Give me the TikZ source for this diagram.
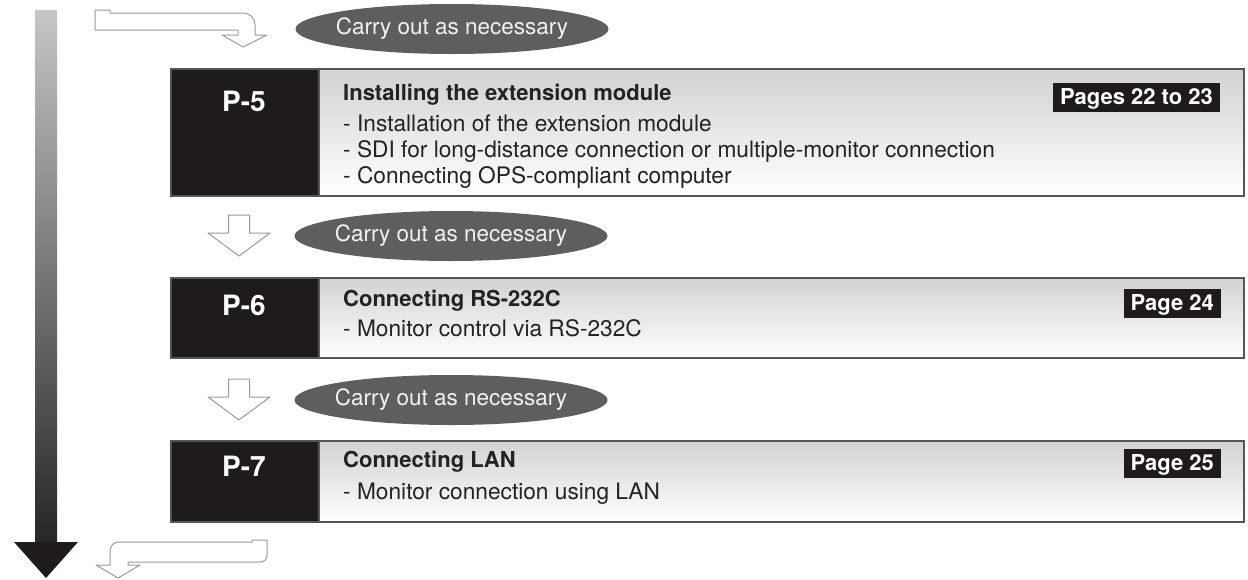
\documentclass[tikz,border=0pt]{standalone}
\usepackage{fontspec}
\setmainfont{TeX Gyre Heros}
\usetikzlibrary{positioning,shapes.geometric}
\definecolor{stageblack}{HTML}{1F1B1B}
\definecolor{boxedge}{HTML}{555555}
\definecolor{boxtop}{HTML}{D2D2D2}
\definecolor{notegray}{HTML}{5E5E5E}
\definecolor{hollowedge}{HTML}{9A9A9A}
\definecolor{inktext}{HTML}{222222}

\begin{document}
\begin{tikzpicture}[x=1pt,y=-1pt,
  stage node/.style={draw=boxedge, line width=1.5pt, fill=stageblack, anchor=north west, minimum width=148pt, inner sep=0pt},
  info node/.style={draw=boxedge, line width=1.5pt, top color=boxtop, bottom color=white, anchor=north west, minimum width=925pt, inner sep=0pt},
  stage label/.style={text=white, font=\fontsize{28}{28}\selectfont\bfseries},
  title text/.style={anchor=west, inner sep=0pt, text height=20pt, text depth=5.5pt, font=\fontsize{22}{22}\selectfont\bfseries, text=inktext},
  item text/.style={inner sep=0pt, text height=20pt, text depth=5.5pt, font=\fontsize{22.7}{22.7}\selectfont, text=inktext},
  page tag/.style={fill=stageblack, text=white, inner xsep=7pt, inner ysep=0pt, text height=22pt, text depth=7pt, font=\fontsize{22}{22}\selectfont\bfseries, anchor=east},
  note node/.style={ellipse, fill=notegray, text=white!95!black, minimum width=313pt, minimum height=50pt, inner xsep=-6pt, inner ysep=0pt, font=\fontsize{22.5}{22.5}\selectfont},
  hollow/.style={draw=hollowedge, fill=white, line width=1pt, line join=round}]

  \useasboundingbox (0,0) rectangle (1248,579);

  % flow arrow on the left
  \shade[top color=gray!45, bottom color=black!85] (35,10) rectangle (57,543);
  \fill[stageblack] (14,542) -- (78,542) -- (46,578) -- cycle;

  % bent arrows in and out
  \draw[hollow] (95,10) -- (110,10) -- (110,13) -- (243,13)
    .. controls (250,13) and (255,18) .. (255,25) -- (255,35) -- (267,35)
    -- (243,47) -- (222,35) -- (238,35) -- (238,30) -- (95,30) -- cycle;
  \draw[hollow] (128,565) -- (140,565) -- (118,578) -- (96,565) -- (110,565)
    -- (110,552) .. controls (110,546) and (113,542) .. (119,542) -- (252,542)
    -- (252,540) -- (267,540) -- (267,555) .. controls (267,560) and (264,562) .. (259,562)
    -- (128,562) -- cycle;

  % small down arrows
  \foreach \c in {236,400}
    \draw[hollow] (228.5,{\c-21}) -- (249.5,{\c-21}) -- (249.5,{\c-3}) -- (270,{\c-3})
      -- (239,{\c+20}) -- (208,{\c-3}) -- (228.5,{\c-3}) -- cycle;

  % notes
  \node[note node] (c5) at (452,29) {Carry out as necessary};
  \node[note node] (c6) at (451,236) {Carry out as necessary};
  \node[note node] (c7) at (451,400) {Carry out as necessary};

  % P-5
  \node[info node, minimum height=127pt] (b5) at (318,68) {};
  \node[stage node, minimum height=127pt] (s5) at (170,68) {};
  \node[stage label] (l5) at (244,101) {P-5};
  \node[title text] (t5) at (343,93) {Installing the extension module};
  \node[item text, below=5.5pt of t5.south west, anchor=north west] (i5a) {- Installation of the extension module};
  \node[item text, below=0pt of i5a.south west, anchor=north west] (i5b) {- SDI for long-distance connection or multiple-monitor connection};
  \node[item text, below=0pt of i5b.south west, anchor=north west] (i5c) {- Connecting OPS-compliant computer};
  \node[page tag] (g5) at (1220,97) {Pages 22 to 23};

  % P-6
  \node[info node, minimum height=80pt] (b6) at (318,277) {};
  \node[stage node, minimum height=80pt] (s6) at (170,277) {};
  \node[stage label] (l6) at (244,305) {P-6};
  \node[title text] (t6) at (343,299) {Connecting RS-232C};
  \node[item text, below=4.5pt of t6.south west, anchor=north west] (i6a) {- Monitor control via RS-232C};
  \node[page tag] (g6) at (1221,303) {Page 24};

  % P-7
  \node[info node, minimum height=81pt] (b7) at (318,440) {};
  \node[stage node, minimum height=81pt] (s7) at (170,440) {};
  \node[stage label] (l7) at (244,466) {P-7};
  \node[title text] (t7) at (343,460) {Connecting LAN};
  \node[item text, below=6.5pt of t7.south west, anchor=north west] (i7a) {- Monitor connection using LAN};
  \node[page tag] (g7) at (1221,463) {Page 25};
\end{tikzpicture}
\end{document}
